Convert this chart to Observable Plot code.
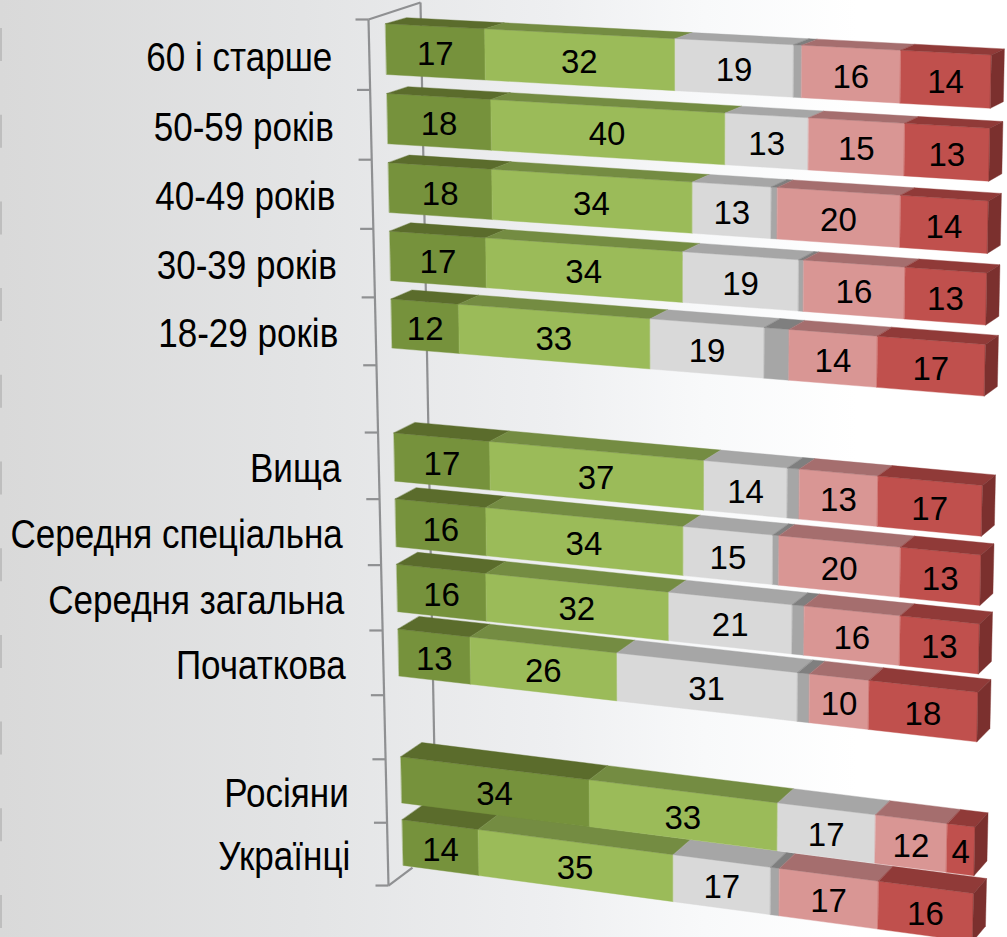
<!DOCTYPE html>
<html><head><meta charset="utf-8">
<script src="https://cdn.jsdelivr.net/npm/d3@7"></script>
<script src="https://cdn.jsdelivr.net/npm/@observablehq/plot@0.6"></script>
<style>
html,body{margin:0;padding:0;width:1007px;height:937px;overflow:hidden;
background:linear-gradient(90deg,#d9d9d9 0%,#e3e4e5 30%,#eeeff1 55%,#f8f9fa 70%,#ffffff 85%,#ffffff 100%);}
svg{display:block;background:transparent!important;}
</style></head><body><div id="chart"></div>
<script>
// Rows top to bottom; "" marks the empty slots between the groups
const categories = ["60 і старше","50-59 років","40-49 років","30-39 років","18-29 років","",
  "Вища","Середня спеціальна","Середня загальна","Початкова","","Росіяни","Українці"];
const darkGreen  = [17,18,18,17,12,null,17,16,16,13,null,34,14];
const lightGreen = [32,40,34,34,33,null,37,34,32,26,null,33,35];
const lightGrey  = [19,13,13,19,19,null,14,15,21,31,null,17,17];
const midGrey    = [ 2, 0, 1,0.7, 4,null, 2, 1, 2, 2,null, 0,1.5]; // unlabelled remainder
const pink       = [16,15,20,16,14,null,13,20,16,10,null,12,17];
const red        = [14,13,14,13,17,null,17,13,13,18,null, 4,16];
const series = [darkGreen, lightGreen, lightGrey, midGrey, pink, red];
const measuredLengths = {
  0:[17.1,32,19.4,1.3,15.9,14.3],
  1:[18,39.4,13.6,0,15.5,13.5],
  3:[16.8,33.6,19.2,0.8,16.5,13.1],
  4:[11.9,33,19.1,4.1,14.5,17.4],
  11:[34,32.8,16.6,0,12,4.6]
};
const labelled = [true,true,true,false,true,true];
const frontColors = ["#76923c","#9bbb59","#d9d9d9","#a6a6a6","#d99694","#c0504d"];
const topColors   = ["#5b6c2c","#748c42","#a6a6a6","#7f7f7f","#a56e6e","#903a38"];
const sideColor = "#7b302e", axisColor = "#8f9092";

// Perspective of the slanted chart: (percent u, slot v, depth w) -> picture position
const slotY = v => 19 + 70.74*v - 0.317*v*v;
const warp  = u => u - 0.00052*u*(100-u);
function project(u, v, w = 0) {
  const t = warp(u)/100;
  const x = (385 + 1.4*v)*(1-t) + (991 - 1.5*v)*t + w*(21 - 8*t);
  const y = slotY(v) + t*(31 + 3.58*v) + w*(-6 - 0.75*v);
  return [x, y];
}
const barTop = s => s + 0.06 - 0.009*s;
const barBot = s => s + 0.78 - 0.0085*s;

const polys = [];
function addPoly(id, fill, pts){ pts.forEach(([x,y],i)=>polys.push({id,fill,x,y,i})); }
const valueLabels = [], catLabels = [];

// painted bottom row first so that upper rows overlap lower ones
for (let s = categories.length-1; s >= 0; s--) {
  if (!categories[s]) continue;
  const vals = series.map(a => a[s]);
  const lengths = measuredLengths[s] || vals;
  const total = d3.sum(lengths);
  const t = barTop(s), b = barBot(s);
  let acc = 0;
  vals.forEach((val,k) => {
    const len = lengths[k];
    if (!len) return;
    const u0 = acc/total*100, u1 = (acc+len)/total*100;
    acc += len;
    addPoly(`f${s}-${k}`, frontColors[k], [project(u0,t),project(u1,t),project(u1,b),project(u0,b)]);
    addPoly(`t${s}-${k}`, topColors[k], [project(u0,t),project(u1,t),project(u1,t,1),project(u0,t,1)]);
    if (labelled[k]) {
      const [x,y] = project((u0+u1)/2,(t+b)/2);
      valueLabels.push({x, y:y+3, text:String(val)});
    }
  });
  addPoly(`s${s}`, sideColor, [project(100,t),project(100,t,1),project(100,b,1),project(100,b)]);
  catLabels.push({x:331+1.5*(s+0.5), y:slotY(s+0.54), text:categories[s]});
}

// Axis frame
const ticks = d3.range(categories.length+1);
const frontAxisX = v => 368 + 20*v/13;
const axisLines = [
  {x1:frontAxisX(0), y1:slotY(0), x2:frontAxisX(13), y2:slotY(13)},
  {x1:frontAxisX(0), y1:slotY(0), x2:420, y2:slotY(0)-17},
  {x1:420, y1:slotY(0)-17, x2:436, y2:slotY(13)-18},
  {x1:frontAxisX(13), y1:slotY(13), x2:412, y2:slotY(13)-18},
  ...ticks.map(v => ({x1:frontAxisX(v)-13, y1:slotY(v), x2:frontAxisX(v), y2:slotY(v)}))
];
const edgeDashes = d3.range(11).map(i => ({y1:28+86.7*i, y2:61+86.7*i}));

const plot = Plot.plot({
  width:1007, height:937,
  marginTop:0, marginRight:0, marginBottom:0, marginLeft:0,
  x:{domain:[0,1007], range:[0,1007], axis:null},
  y:{domain:[0,937], range:[0,937], axis:null},
  color:{type:"identity"},
  style:{background:"transparent", overflow:"hidden"},
  marks:[
    Plot.ruleX(edgeDashes,{x:()=>0.5, y1:"y1", y2:"y2", stroke:"#b4b4b4", strokeWidth:1.5}),
    Plot.link(axisLines,{x1:"x1",y1:"y1",x2:"x2",y2:"y2",stroke:axisColor,strokeWidth:2.2}),
    Plot.line(polys,{x:"x",y:"y",z:"id",fill:"fill",stroke:"fill",strokeWidth:0.4,curve:"linear-closed"}),
    Plot.text(valueLabels,{x:"x",y:"y",text:"text",fontSize:33,fill:"black",fontFamily:"Liberation Sans"}),
    Plot.text(catLabels,{x:"x",y:"y",text:"text",fontSize:41,fill:"black",textAnchor:"end",fontFamily:"Liberation Sans",className:"cat-label"})
  ]
});
document.getElementById("chart").append(plot);
// The reference's row names are set in a condensed, vertically stretched face
plot.querySelectorAll(".cat-label text").forEach(el => {
  el.setAttribute("transform", (el.getAttribute("transform") || "") + " scale(0.855,1)");
});
</script></body></html>
